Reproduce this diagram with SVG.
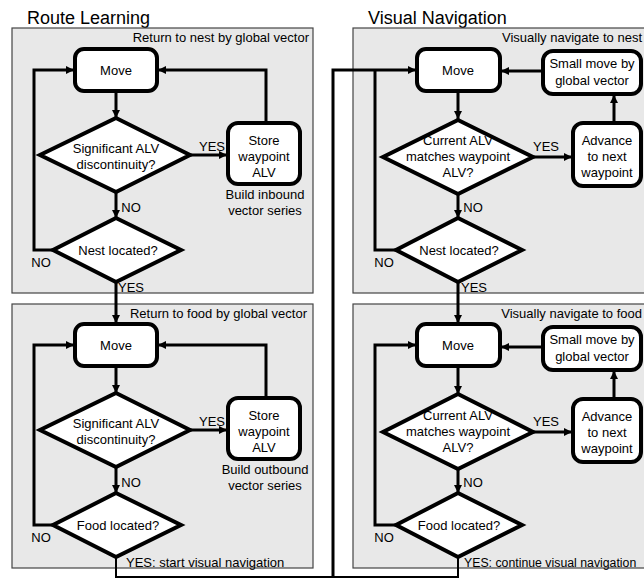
<svg xmlns="http://www.w3.org/2000/svg" width="644" height="584" viewBox="0 0 644 584">
<defs>
<marker id="ah" viewBox="0 0 10 10" refX="10" refY="5" markerWidth="9" markerHeight="8" markerUnits="userSpaceOnUse" orient="auto">
<path d="M0,0 L10,5 L0,10 z" fill="#000"/>
</marker>
</defs>
<style>
text{font-family:"Liberation Sans",Arial,sans-serif;fill:#000}
.t{font-size:13px;text-anchor:middle}
.s{font-size:13px}
.h{font-size:18px}
.r{text-anchor:end}
.panel{fill:#e8e8e8;stroke:#444;stroke-width:1.2}
.box{fill:#fff;stroke:#000;stroke-width:4}
.c{fill:none;stroke:#000;stroke-width:3}
.cA{fill:none;stroke:#000;stroke-width:3;marker-end:url(#ah)}
.thin{fill:none;stroke:#000;stroke-width:2}
</style>

<text class="h" x="27" y="24">Route Learning</text>
<text class="h" x="368" y="24">Visual Navigation</text>

<g id="panel-return-nest">
<rect class="panel" x="12" y="28" width="301" height="265"/>
<text class="s r" x="309" y="42">Return to nest by global vector</text>
</g>
<g id="panel-return-food">
<rect class="panel" x="12" y="304" width="301" height="264"/>
<text class="s r" x="307" y="318">Return to food by global vector</text>
</g>
<g id="panel-vis-nest">
<rect class="panel" x="353" y="28" width="300" height="265"/>
<text class="s r" x="642" y="42">Visually navigate to nest</text>
</g>
<g id="panel-vis-food">
<rect class="panel" x="353" y="304" width="300" height="264"/>
<text class="s r" x="642" y="318">Visually navigate to food</text>
</g>

<g id="connectors">
<!-- left top -->
<path class="cA" d="M116,92 V118"/>
<path class="cA" d="M190,155 H227"/>
<path class="cA" d="M266,122 V70 H158"/>
<path class="cA" d="M116,193 V218"/>
<path class="cA" d="M53,250 H34 V70 H74"/>
<path class="cA" d="M116,282 V323"/>
<!-- left bottom -->
<path class="cA" d="M116,367 V393"/>
<path class="cA" d="M190,430 H227"/>
<path class="cA" d="M266,397 V345 H158"/>
<path class="cA" d="M116,468 V493"/>
<path class="cA" d="M53,525 H34 V345 H74"/>
<!-- bottom links -->
<path class="thin" d="M116,557 V577 H458 V557"/>
<path class="cA" d="M333,578 V70 H416"/>
<!-- right top -->
<path class="cA" d="M543,71 H501"/>
<path class="cA" d="M614,122 V95"/>
<path class="cA" d="M533,157 H572"/>
<path class="cA" d="M458,92 V119"/>
<path class="cA" d="M458,194 V218"/>
<path class="c" d="M396,250 H375 V70"/>
<path class="cA" d="M458,282 V323"/>
<!-- right bottom -->
<path class="cA" d="M543,347 H501"/>
<path class="cA" d="M614,398 V371"/>
<path class="cA" d="M533,432 H572"/>
<path class="cA" d="M458,367 V394"/>
<path class="cA" d="M458,469 V493"/>
<path class="cA" d="M396,525 H375 V345 H416"/>
</g>

<!-- left top nodes -->
<g id="lt-move"><rect class="box" x="75" y="49" width="82" height="42" rx="9"/><text class="t" x="116" y="75">Move</text></g>
<g id="lt-sig"><polygon class="box" points="116,118 190,155 116,192 40,155"/><text class="t" x="116" y="153">Significant ALV</text><text class="t" x="116" y="169">discontinuity?</text></g>
<g id="lt-store"><rect class="box" x="228" y="123" width="72" height="61" rx="10"/><text class="t" x="264" y="145">Store</text><text class="t" x="264" y="161">waypoint</text><text class="t" x="264" y="177">ALV</text></g>
<g id="lt-build"><text class="t" x="265" y="199">Build inbound</text><text class="t" x="265" y="215">vector series</text></g>
<g id="lt-nest"><polygon class="box" points="116,218 181,250 116,282 53,250"/><text class="t" x="118" y="255">Nest located?</text></g>
<text class="t" x="212" y="151">YES</text>
<text class="t" x="131" y="212">NO</text>
<text class="t" x="41" y="267">NO</text>
<text class="t" x="131" y="292">YES</text>

<!-- left bottom nodes -->
<g id="lb-move"><rect class="box" x="75" y="324" width="82" height="42" rx="9"/><text class="t" x="116" y="350">Move</text></g>
<g id="lb-sig"><polygon class="box" points="116,393 190,430 116,467 40,430"/><text class="t" x="116" y="428">Significant ALV</text><text class="t" x="116" y="444">discontinuity?</text></g>
<g id="lb-store"><rect class="box" x="228" y="398" width="72" height="61" rx="10"/><text class="t" x="264" y="420">Store</text><text class="t" x="264" y="436">waypoint</text><text class="t" x="264" y="452">ALV</text></g>
<g id="lb-build"><text class="t" x="265" y="474">Build outbound</text><text class="t" x="265" y="490">vector series</text></g>
<g id="lb-food"><polygon class="box" points="116,493 181,525 116,557 53,525"/><text class="t" x="118" y="530">Food located?</text></g>
<text class="t" x="212" y="426">YES</text>
<text class="t" x="131" y="487">NO</text>
<text class="t" x="41" y="542">NO</text>
<text class="s" x="126" y="567">YES:  start visual navigation</text>

<!-- right top nodes -->
<g id="rt-move"><rect class="box" x="417" y="49" width="83" height="42" rx="9"/><text class="t" x="458" y="75">Move</text></g>
<g id="rt-small"><rect class="box" x="543" y="51" width="98" height="43" rx="10"/><text class="t" x="592" y="68">Small move by</text><text class="t" x="592" y="85">global vector</text></g>
<g id="rt-adv"><rect class="box" x="573" y="123" width="68" height="63" rx="10"/><text class="t" x="607" y="145">Advance</text><text class="t" x="607" y="161">to next</text><text class="t" x="607" y="177">waypoint</text></g>
<g id="rt-match"><polygon class="box" points="458,120 533,157 458,194 383,157"/><text class="t" x="458" y="145">Current ALV</text><text class="t" x="458" y="161">matches waypoint</text><text class="t" x="458" y="177">ALV?</text></g>
<g id="rt-nest"><polygon class="box" points="458,218 522,250 458,282 396,250"/><text class="t" x="459" y="255">Nest located?</text></g>
<text class="t" x="546" y="151">YES</text>
<text class="t" x="473" y="212">NO</text>
<text class="t" x="384" y="267">NO</text>
<text class="t" x="474" y="292">YES</text>

<!-- right bottom nodes -->
<g id="rb-move"><rect class="box" x="417" y="324" width="83" height="42" rx="9"/><text class="t" x="458" y="350">Move</text></g>
<g id="rb-small"><rect class="box" x="543" y="327" width="98" height="43" rx="10"/><text class="t" x="592" y="344">Small move by</text><text class="t" x="592" y="361">global vector</text></g>
<g id="rb-adv"><rect class="box" x="573" y="399" width="68" height="63" rx="10"/><text class="t" x="607" y="421">Advance</text><text class="t" x="607" y="437">to next</text><text class="t" x="607" y="453">waypoint</text></g>
<g id="rb-match"><polygon class="box" points="458,394 533,432 458,469 383,432"/><text class="t" x="458" y="420">Current ALV</text><text class="t" x="458" y="436">matches waypoint</text><text class="t" x="458" y="452">ALV?</text></g>
<g id="rb-food"><polygon class="box" points="458,493 522,525 458,557 396,525"/><text class="t" x="459" y="530">Food located?</text></g>
<text class="t" x="546" y="426">YES</text>
<text class="t" x="473" y="487">NO</text>
<text class="t" x="384" y="542">NO</text>
<text class="s" x="464" y="567" style="font-size:12.3px">YES: continue visual navigation</text>
</svg>
